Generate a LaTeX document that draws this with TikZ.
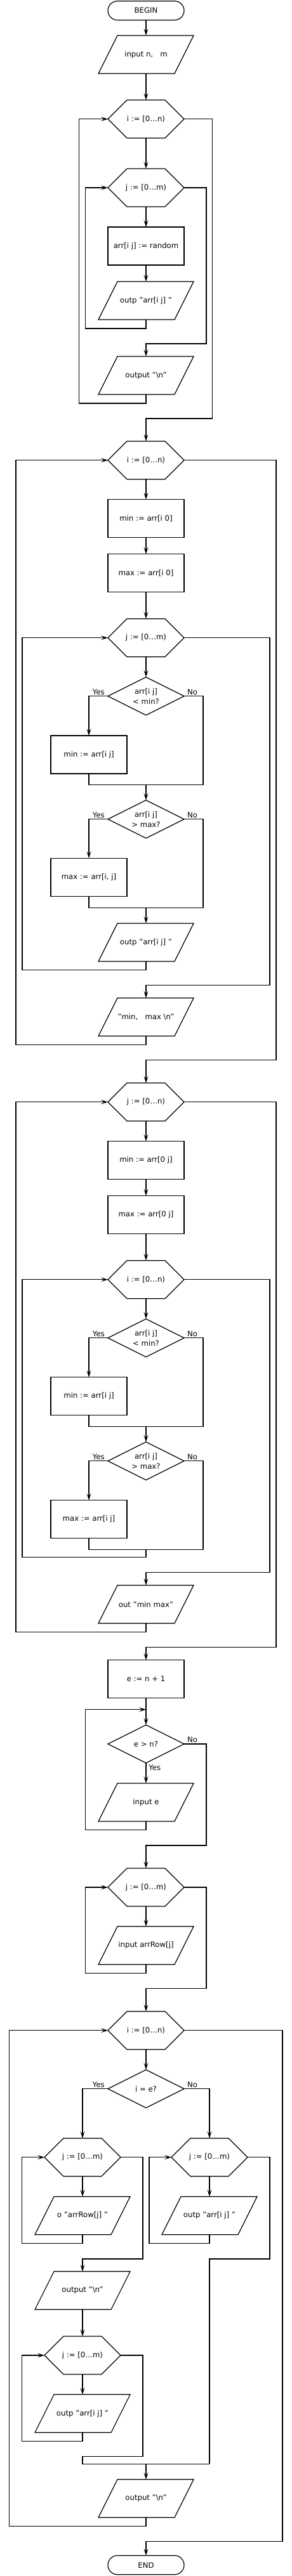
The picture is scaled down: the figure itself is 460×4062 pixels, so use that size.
\documentclass[tikz,border=0pt]{standalone}
\usepackage{fontspec}
\setmainfont{DejaVu Sans}
\usetikzlibrary{arrows.meta,calc}
\tikzset{
  ln/.style={line width=1.2pt, line join=miter},
  box/.style={rectangle, inner sep=0pt, outer sep=0pt, minimum width=120pt, minimum height=60pt,
    align=center, font=\fontsize{11.7}{16}\selectfont},
  procbox/.style={box, draw, line width=1.2pt},
  hexbox/.style={box},
  iobox/.style={box, minimum width=150pt},
  decbox/.style={box},
  termbox/.style={box, draw, line width=1.2pt, minimum height=30pt, rounded corners=15pt},
  flow/.style={ln, -{Stealth[length=11pt,width=7pt,inset=5pt]}},
  wire/.style={ln},
  lbl/.style={font=\fontsize{11.7}{14}\selectfont, inner sep=0pt},
}
\newcommand\drawhex[1]{\draw[ln] (#1.west) -- ([xshift=30pt]#1.north west) -- ([xshift=-30pt]#1.north east) -- (#1.east) -- ([xshift=-30pt]#1.south east) -- ([xshift=30pt]#1.south west) -- cycle;}
\newcommand\drawio[1]{\draw[ln] (#1.south west) -- ([xshift=-30pt]#1.south east) -- (#1.north east) -- ([xshift=30pt]#1.north west) -- cycle;}
\newcommand\drawdec[1]{\draw[ln] (#1.west) -- (#1.north) -- (#1.east) -- (#1.south) -- cycle;}
\begin{document}
\begin{tikzpicture}[x=1pt,y=-1pt]
\useasboundingbox (0,0) rectangle (460,4062);
% ---------- section 1
\node[termbox] (begin) at (230,16.7) {BEGIN};
\node[iobox] (in1) at (230,86) {input n,\ \ \ m}; \drawio{in1}
\node[hexbox] (h1) at (230,187.7) {i := [0…n)}; \drawhex{h1}
\node[hexbox] (h2) at (230,296) {j := [0…m)}; \drawhex{h2}
\node[procbox] (r1) at (230,388) {arr[i j] := random};
\node[iobox] (p1) at (230,474) {outp "arr[i j] "}; \drawio{p1}
\node[iobox] (p2) at (230,592) {output "\textbackslash n"}; \drawio{p2}
\draw[flow] (begin.south) -- (in1.north);
\draw[flow] (in1.south) -- (h1.north);
\draw[flow] (h1.south) -- (h2.north);
\draw[flow] (h2.south) -- (r1.north);
\draw[flow] (r1.south) -- (p1.north);
\draw[flow] (p1.south) |- (134.7,518) |- (h2.west);
\draw[flow] (h2.east) -| (325,542) -| (p2.north);
\draw[flow] (p2.south) |- (124.7,636) |- (h1.west);
% ---------- section 2
\node[hexbox] (h3) at (230,725.7) {i := [0…n)}; \drawhex{h3}
\node[procbox] (r2) at (230,817.7) {min := arr[i 0]};
\node[procbox] (r3) at (230,903.7) {max := arr[i 0]};
\node[hexbox] (h4) at (230,1005.7) {j := [0…m)}; \drawhex{h4}
\node[decbox] (d1) at (230,1097.7) {arr[i j]\\< min?}; \drawdec{d1}
\node[procbox] (r4) at (140,1190) {min := arr[i j]};
\node[decbox] (d2) at (230,1291.7) {arr[i j]\\> max?}; \drawdec{d2}
\node[procbox] (r5) at (140,1383.3) {max := arr[i, j]};
\node[iobox] (p3) at (230,1486) {outp "arr[i j] "}; \drawio{p3}
\node[iobox] (p4) at (230,1603.7) {"min,\ \ \ max \textbackslash n"}; \drawio{p4}
\draw[flow] (h1.east) -| (334.7,660) -| (h3.north);
\draw[flow] (h3.south) -- (r2.north);
\draw[flow] (r2.south) -- (r3.north);
\draw[flow] (r3.south) -- (h4.north);
\draw[flow] (h4.south) -- (d1.north);
\draw[flow] (d1.west) -| (r4.north);
\node[lbl, anchor=south east] (y1) at ([xshift=-5pt,yshift=2pt]d1.west) {Yes};
\node[lbl, anchor=south west] (n1) at ([xshift=5pt,yshift=2pt]d1.east) {No};
\coordinate (m1) at (230,1237.7);
\draw[wire] (d1.east) -| (320,1237.7) -| (r4.south);
\draw[flow] (m1) -- (d2.north);
\draw[flow] (d2.west) -| (r5.north);
\node[lbl, anchor=south east] (y2) at ([xshift=-5pt,yshift=2pt]d2.west) {Yes};
\node[lbl, anchor=south west] (n2) at ([xshift=5pt,yshift=2pt]d2.east) {No};
\coordinate (m2) at (230,1431.7);
\draw[wire] (d2.east) -| (320,1431.7) -| (r5.south);
\draw[flow] (m2) -- (p3.north);
\draw[flow] (p3.south) |- (35,1529.7) |- (h4.west);
\draw[flow] (h4.east) -| (425,1553.7) -| (p4.north);
\draw[flow] (p4.south) |- (25,1647.7) |- (h3.west);
% ---------- section 3
\node[hexbox] (h5) at (230,1737.7) {j := [0…n)}; \drawhex{h5}
\node[procbox] (r6) at (230,1829.7) {min := arr[0 j]};
\node[procbox] (r7) at (230,1915.7) {max := arr[0 j]};
\node[hexbox] (h6) at (230,2017.7) {i := [0…n)}; \drawhex{h6}
\node[decbox] (d3) at (230,2109.7) {arr[i j]\\< min?}; \drawdec{d3}
\node[procbox] (r8) at (140,2201.7) {min := arr[i j]};
\node[decbox] (d4) at (230,2303.7) {arr[i j]\\> max?}; \drawdec{d4}
\node[procbox] (r9) at (140,2395.7) {max := arr[i j]};
\node[iobox] (p5) at (230,2529.7) {out "min max"}; \drawio{p5}
\draw[flow] (h3.east) -| (435,1671.7) -| (h5.north);
\draw[flow] (h5.south) -- (r6.north);
\draw[flow] (r6.south) -- (r7.north);
\draw[flow] (r7.south) -- (h6.north);
\draw[flow] (h6.south) -- (d3.north);
\draw[flow] (d3.west) -| (r8.north);
\node[lbl, anchor=south east] (y3) at ([xshift=-5pt,yshift=2pt]d3.west) {Yes};
\node[lbl, anchor=south west] (n3) at ([xshift=5pt,yshift=2pt]d3.east) {No};
\coordinate (m3) at (230,2249.7);
\draw[wire] (d3.east) -| (320,2249.7) -| (r8.south);
\draw[flow] (m3) -- (d4.north);
\draw[flow] (d4.west) -| (r9.north);
\node[lbl, anchor=south east] (y4) at ([xshift=-5pt,yshift=2pt]d4.west) {Yes};
\node[lbl, anchor=south west] (n4) at ([xshift=5pt,yshift=2pt]d4.east) {No};
\coordinate (m4) at (230,2443.7);
\draw[wire] (d4.east) -| (320,2443.7) -| (r9.south);
\draw[flow] (m4) |- (35,2455.7) |- (h6.west);
\draw[flow] (h6.east) -| (425,2479.7) -| (p5.north);
\draw[flow] (p5.south) |- (25,2573.7) |- (h5.west);
% ---------- section 4
\node[procbox] (r10) at (230,2647.7) {e := n + 1};
\node[decbox] (d5) at (230,2750) {e > n?}; \drawdec{d5}
\node[iobox] (p6) at (230,2842) {input e}; \drawio{p6}
\node[hexbox] (h7) at (230,2976) {j := [0…m)}; \drawhex{h7}
\node[iobox] (p7) at (230,3067.7) {input arrRow[j]}; \drawio{p7}
\draw[flow] (h5.east) -| (435,2597.7) -| (r10.north);
\coordinate (j1) at (230,2695.7);
\draw[flow] (r10.south) -- (d5.north);
\draw[flow] (d5.south) -- (p6.north);
\node[lbl, anchor=north west] (y5) at ([xshift=4pt,yshift=-3pt]d5.south) {Yes};
\node[lbl, anchor=south west] (n5) at ([xshift=5pt,yshift=2pt]d5.east) {No};
\draw[flow] (p6.south) |- (134.7,2885.7) |- (j1);
\draw[flow] (d5.east) -| (325,2910) -| (h7.north);
\draw[flow] (h7.south) -- (p7.north);
\draw[flow] (p7.south) |- (134.7,3111.7) |- (h7.west);
% ---------- section 5
\node[hexbox] (h8) at (230,3201.7) {i := [0…n)}; \drawhex{h8}
\node[decbox] (d6) at (230,3293.7) {i = e?}; \drawdec{d6}
\node[hexbox] (h9) at (130,3401.7) {j := [0…m)}; \drawhex{h9}
\node[hexbox] (h10) at (330,3401.7) {j := [0…m)}; \drawhex{h10}
\node[iobox] (p8) at (130,3493.7) {o "arrRow[j] "}; \drawio{p8}
\node[iobox] (p11) at (330,3493.7) {outp "arr[i j] "}; \drawio{p11}
\node[iobox] (p9) at (130,3611.8) {output "\textbackslash n"}; \drawio{p9}
\node[hexbox] (h11) at (130,3714) {j := [0…m)}; \drawhex{h11}
\node[iobox] (p10) at (130,3805.8) {outp "arr[i j] "}; \drawio{p10}
\node[iobox] (p12) at (230,3939.7) {output "\textbackslash n"}; \drawio{p12}
\node[termbox] (end) at (230,4044.7) {END};
\draw[flow] (h7.east) -| (325,3135.7) -| (h8.north);
\draw[flow] (h8.south) -- (d6.north);
\draw[flow] (d6.west) -| (h9.north);
\draw[flow] (d6.east) -| (h10.north);
\node[lbl, anchor=south east] (y6) at ([xshift=-5pt,yshift=2pt]d6.west) {Yes};
\node[lbl, anchor=south west] (n6) at ([xshift=5pt,yshift=2pt]d6.east) {No};
\draw[flow] (h9.south) -- (p8.north);
\draw[flow] (p8.south) |- (34.7,3537.7) |- (h9.west);
\draw[flow] (h9.east) -| (225,3562) -| (p9.north);
\draw[flow] (p9.south) -- (h11.north);
\draw[flow] (h11.south) -- (p10.north);
\draw[flow] (p10.south) |- (34.7,3849.7) |- (h11.west);
\draw[flow] (h10.south) -- (p11.north);
\draw[flow] (p11.south) |- (235,3537.7) |- (h10.west);
\coordinate (m5) at (230,3885.3);
\draw[wire] (h11.east) -| (225,3873.7) -| (130,3885.3) -- (330,3885.3);
\draw[wire] (h10.east) -| (425,3562) -| (330,3885.3);
\draw[flow] (m5) -- (p12.north);
\draw[flow] (p12.south) |- (14.7,3983.7) |- (h8.west);
\draw[flow] (h8.east) -| (445,4007.7) -| (end.north);
\end{tikzpicture}
\end{document}
